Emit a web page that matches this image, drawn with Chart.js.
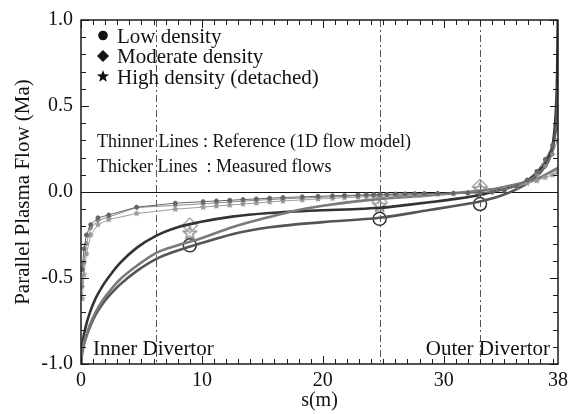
<!DOCTYPE html>
<html>
<head>
<meta charset="utf-8">
<script src="https://cdn.jsdelivr.net/npm/chart.js@4.4.1/dist/chart.umd.min.js"></script>
<style>
html,body{margin:0;padding:0;background:#fff;}
canvas{display:block;}
</style>
</head>
<body>
<canvas id="c" width="582" height="414"></canvas>
<script>
// ---------- DATA ----------
const xTickPos = [0, 10, 20, 30, 39.45];
const xTickLabels = ['0', '10', '20', '30', '38'];
const yTickPos = [-1, -0.5, 0, 0.5, 1];
const dividerS = [6.2, 24.7, 33.0];

// thin lines (1D flow model reference)
const thinS = [0.1, 0.25, 0.45, 0.8, 1.4, 2.3, 4.6, 7.8, 10.1, 11.2, 12.3, 13.4, 14.5, 15.6, 16.7, 18.3, 19.6, 20.8, 21.8, 22.9, 23.6, 24.2, 24.7, 25.3, 26.0, 26.8, 27.6, 28.4, 29.5, 30.8, 32.0, 33.0, 34.0, 35.0, 36.0, 36.9, 37.7, 38.4, 39.0, 39.4];
const thinLow = [-0.45, -0.33, -0.25, -0.19, -0.15, -0.133, -0.088, -0.065, -0.056, -0.052, -0.048, -0.044, -0.04, -0.036, -0.032, -0.028, -0.025, -0.022, -0.02, -0.018, -0.016, -0.015, -0.014, -0.013, -0.012, -0.011, -0.01, -0.009, -0.008, -0.007, -0.005, -0.003, 0.0, 0.01, 0.035, 0.07, 0.12, 0.19, 0.27, 0.37];
const thinModerate = [-0.55, -0.41, -0.3, -0.21, -0.165, -0.145, -0.09, -0.078, -0.068, -0.063, -0.058, -0.053, -0.048, -0.044, -0.04, -0.035, -0.031, -0.028, -0.025, -0.022, -0.02, -0.019, -0.018, -0.017, -0.015, -0.014, -0.013, -0.012, -0.01, -0.008, -0.006, -0.004, 0.0, 0.012, 0.035, 0.065, 0.1, 0.15, 0.22, 0.3];
const thinHigh = [-0.62, -0.48, -0.36, -0.25, -0.19, -0.16, -0.125, -0.1, -0.088, -0.082, -0.076, -0.07, -0.064, -0.058, -0.052, -0.046, -0.041, -0.037, -0.033, -0.03, -0.028, -0.026, -0.025, -0.023, -0.021, -0.019, -0.017, -0.015, -0.013, -0.01, -0.007, -0.004, 0.0, 0.015, 0.03, 0.05, 0.065, 0.085, 0.1, 0.115];

// thick lines (measured flows)
const thickDarkS = [0, 0.05, 0.19, 0.4, 0.74, 1.2, 1.84, 2.5, 3.2, 4.6, 6.2, 8, 9.83, 12.5, 15.6, 20, 22.5, 24.7, 27, 28.8, 31, 33, 34.6, 36.3, 37.66, 38.76, 39.1, 39.3, 39.38, 39.43];
const thickDarkV = [-1.0, -0.93, -0.85, -0.78, -0.70, -0.62, -0.54, -0.475, -0.415, -0.325, -0.255, -0.205, -0.175, -0.143, -0.122, -0.106, -0.1, -0.092, -0.075, -0.06, -0.04, -0.017, 0.012, 0.045, 0.11, 0.22, 0.32, 0.51, 0.7, 1.0];
const thickGrayS = [0, 0.05, 0.2, 0.4, 0.74, 1.2, 1.84, 2.5, 3.2, 4.6, 6.2, 8, 9.83, 12.5, 15.6, 18, 20, 24.7, 28.8, 31, 33, 34.35, 36, 37.5, 39.45];
const thickGrayV = [-1.0, -0.95, -0.89, -0.84, -0.77, -0.70, -0.625, -0.565, -0.51, -0.43, -0.355, -0.31, -0.272, -0.205, -0.145, -0.105, -0.08, -0.04, -0.02, -0.006, 0.008, 0.02, 0.045, 0.07, 0.14];
const thickLowS = [0, 0.05, 0.2, 0.4, 0.74, 1.2, 1.84, 2.5, 3.2, 4.6, 6.2, 8, 9.83, 12.5, 15.6, 20, 24.7, 28.8, 31, 33, 34.6, 36, 37.3, 38.3, 39.0, 39.3, 39.45];
const thickLowV = [-1.0, -0.96, -0.9, -0.85, -0.785, -0.715, -0.645, -0.59, -0.54, -0.46, -0.39, -0.34, -0.30, -0.245, -0.205, -0.175, -0.15, -0.105, -0.08, -0.055, -0.025, 0.015, 0.07, 0.14, 0.25, 0.4, 0.62];

// measured points (large open markers)
const markS = [9, 24.7, 33];
const markLow = [-0.31, -0.156, -0.07];
const markModerate = [-0.195, -0.06, 0.03];
const markHigh = [-0.24, -0.08, 0.015];

// text
const legendItems = ['Low density', 'Moderate density', 'High density (detached)'];
const noteLines = ['Thinner Lines : Reference (1D flow model)', 'Thicker Lines  : Measured flows'];
const regionLabels = ['Inner Divertor', 'Outer Divertor'];

// ---------- HELPERS ----------
const FONT = '"Liberation Serif", "Times New Roman", serif';
const pts = (xs, ys) => xs.map((x, i) => ({x: x, y: ys[i]}));

function starPath(g, cx, cy, r) {
  g.beginPath();
  for (let i = 0; i < 10; i++) {
    const a = -Math.PI / 2 + i * Math.PI / 5;
    const rr = (i % 2) ? r * 0.42 : r;
    g.lineTo(cx + rr * Math.cos(a), cy + rr * Math.sin(a));
  }
  g.closePath();
}
function makeStar(r, stroke, lw, fill) {
  const size = Math.ceil(2 * r + 2 * lw + 2);
  const c = document.createElement('canvas');
  c.width = size; c.height = size;
  const g = c.getContext('2d');
  starPath(g, size / 2, size / 2, r);
  if (fill) { g.fillStyle = fill; g.fill(); }
  g.strokeStyle = stroke; g.lineWidth = lw; g.lineJoin = 'round'; g.stroke();
  return c;
}
const bigStar = makeStar(7, '#8a8a8a', 1.5, null);
const smallStar = makeStar(2.8, '#999', 1, '#999');

// ---------- PLUGIN ----------
const decor = {
  id: 'decor',
  beforeDatasetsDraw(chart) {
    const {ctx, chartArea: a, scales: {x}} = chart;
    ctx.save();
    ctx.strokeStyle = '#555';
    ctx.lineWidth = 1;
    ctx.setLineDash([7, 3, 2, 3]);
    dividerS.forEach(s => {
      const px = Math.round(x.getPixelForValue(s)) + 0.5;
      ctx.beginPath(); ctx.moveTo(px, a.top); ctx.lineTo(px, a.bottom); ctx.stroke();
    });
    ctx.restore();
  },
  afterDraw(chart) {
    const {ctx, chartArea: a, scales: {x, y}} = chart;
    ctx.save();
    // frame
    ctx.strokeStyle = '#1a1a1a';
    ctx.lineWidth = 1.5;
    ctx.strokeRect(a.left, a.top, a.right - a.left, a.bottom - a.top);
    // inward ticks
    ctx.lineWidth = 1;
    ctx.beginPath();
    for (let i = -10; i <= 10; i++) {
      const v = i / 10;
      const py = Math.round(y.getPixelForValue(v)) + 0.5;
      const L = (i % 5 === 0) ? 8 : 5;
      ctx.moveTo(a.left, py); ctx.lineTo(a.left + L, py);
      ctx.moveTo(a.right, py); ctx.lineTo(a.right - L, py);
    }
    for (let s = 0; s <= 39; s++) {
      const px = Math.round(x.getPixelForValue(s)) + 0.5;
      const L = (s % 10 === 0) ? 8 : 5;
      ctx.moveTo(px, a.bottom); ctx.lineTo(px, a.bottom - L);
      ctx.moveTo(px, a.top); ctx.lineTo(px, a.top + L);
    }
    ctx.stroke();

    // legend
    ctx.fillStyle = '#111';
    ctx.font = '21px ' + FONT;
    ctx.textBaseline = 'alphabetic';
    ctx.textAlign = 'left';
    const lx = 103, tx = 117;
    const ly = [42.5, 63, 83.5];
    legendItems.forEach((t, i) => ctx.fillText(t, tx, ly[i]));
    // symbols
    ctx.beginPath(); ctx.arc(lx, 35.5, 4.8, 0, Math.PI * 2); ctx.fill();
    ctx.beginPath(); ctx.moveTo(lx, 50); ctx.lineTo(lx + 6, 56); ctx.lineTo(lx, 62); ctx.lineTo(lx - 6, 56); ctx.closePath(); ctx.fill();
    starPath(ctx, lx, 76.5, 6.5); ctx.fill();

    // notes
    ctx.font = '18px ' + FONT;
    ctx.fillText(noteLines[0], 97, 146.5);
    ctx.fillText(noteLines[1], 97, 171.5);

    // region labels
    ctx.font = '21px ' + FONT;
    ctx.fillText(regionLabels[0], 93, 355);
    ctx.textAlign = 'right';
    ctx.fillText(regionLabels[1], 550, 355);
    ctx.restore();
  }
};

// ---------- CHART ----------
const thinStyle = (color, style, radius) => ({
  borderColor: color, backgroundColor: color, borderWidth: 1,
  pointStyle: style, pointRadius: radius, pointBorderWidth: 1,
  pointBackgroundColor: color, pointBorderColor: color,
  tension: 0, showLine: true, fill: false
});
const thickStyle = (color) => ({
  borderColor: color, borderWidth: 2.6, pointRadius: 0,
  cubicInterpolationMode: 'monotone', showLine: true, fill: false
});

new Chart(document.getElementById('c'), {
  type: 'scatter',
  data: {
    datasets: [
      Object.assign({label: 'ref low', data: pts(thinS, thinLow)}, thinStyle('#666', 'circle', 2)),
      Object.assign({label: 'ref moderate', data: pts(thinS, thinModerate)}, thinStyle('#8c8c8c', 'rectRot', 2.3)),
      Object.assign({label: 'ref high', data: pts(thinS, thinHigh)}, thinStyle('#9e9e9e', smallStar, 3)),
      Object.assign({label: 'meas gray', data: pts(thickGrayS, thickGrayV)}, thickStyle('#7a7a7a')),
      Object.assign({label: 'meas low', data: pts(thickLowS, thickLowV)}, thickStyle('#555')),
      Object.assign({label: 'meas dark', data: pts(thickDarkS, thickDarkV)}, thickStyle('#333')),
      {label: 'pts moderate', data: pts(markS, markModerate), showLine: false, pointStyle: 'rectRot', pointRadius: 7.5,
       pointBorderColor: '#aaa', pointBackgroundColor: 'rgba(255,255,255,0)', pointBorderWidth: 1.5},
      {label: 'pts high', data: pts(markS, markHigh), showLine: false, pointStyle: bigStar, pointRadius: 7},
      {label: 'pts low', data: pts(markS, markLow), showLine: false, pointStyle: 'circle', pointRadius: 6.5,
       pointBorderColor: '#333', pointBackgroundColor: 'rgba(255,255,255,0)', pointBorderWidth: 1.5}
    ]
  },
  options: {
    responsive: false,
    animation: false,
    devicePixelRatio: 1,
    layout: {padding: {top: 14, right: 24, left: 0, bottom: 0}},
    plugins: {legend: {display: false}, tooltip: {enabled: false}},
    scales: {
      x: {
        type: 'linear', min: 0, max: 39.45,
        afterBuildTicks: s => { s.ticks = xTickPos.map(v => ({value: v})); },
        afterFit: s => { s.height = 50; },
        ticks: {callback: (v, i) => xTickLabels[i], font: {family: FONT, size: 20}, color: '#111',
                padding: 5, maxRotation: 0, autoSkip: false},
        grid: {display: false, drawTicks: false},
        border: {display: false},
        title: {display: true, text: 's(m)', font: {family: FONT, size: 20}, color: '#111',
                padding: {top: 0, bottom: 1}}
      },
      y: {
        type: 'linear', min: -1, max: 1,
        afterBuildTicks: s => { s.ticks = yTickPos.map(v => ({value: v})); },
        afterFit: s => { s.width = 81; },
        ticks: {callback: v => v.toFixed(1), font: {family: FONT, size: 20}, color: '#111', padding: 8},
        grid: {drawTicks: false, lineWidth: 1,
               color: c => (c.tick && c.tick.value === 0) ? '#111' : 'rgba(0,0,0,0)'},
        border: {display: false},
        title: {display: true, text: 'Parallel Plasma Flow (Ma)', font: {family: FONT, size: 21}, color: '#111',
                padding: {top: 11, bottom: 0}}
      }
    }
  },
  plugins: [decor]
});
</script>
</body>
</html>
